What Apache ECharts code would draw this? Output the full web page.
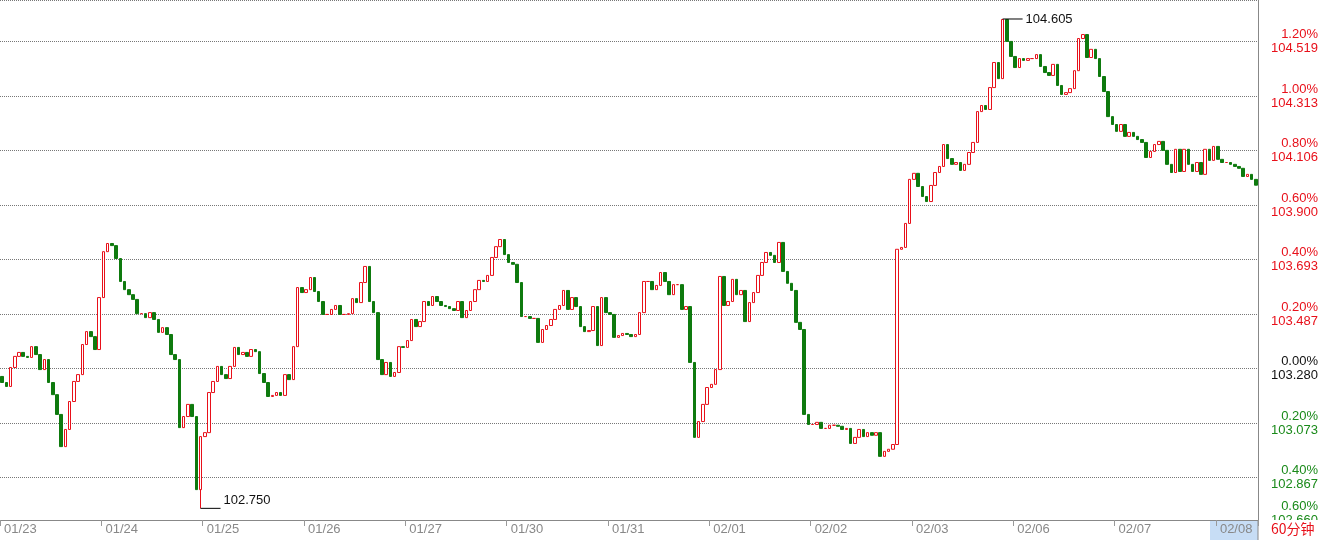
<!DOCTYPE html>
<html>
<head>
<meta charset="utf-8">
<script src="https://cdn.jsdelivr.net/npm/echarts@6/dist/echarts.min.js"></script>
<style>
html,body{margin:0;padding:0;background:#fff;}
#container{width:1325px;height:540px;}
</style>
</head>
<body>
<div id="container"></div>
<script>
// 日期 (每日 24 根 60分钟 K线, 最后一天 10 根)
var days = ['01/23','01/24','01/25','01/26','01/27','01/30','01/31','02/01','02/02','02/03','02/06','02/07','02/08'];
var barsPerDay = [24,24,24,24,24,24,24,24,24,24,24,24,10];

// 收盘价
var closes = [
	103.227,103.212,103.284,103.326,103.341,103.326,103.322,103.363,103.333,103.276,103.314,103.227,103.181,103.106,102.984,103.049,103.155,103.231,103.257,103.371,103.420,103.401,103.352,103.549,
	103.723,103.754,103.746,103.697,103.610,103.579,103.560,103.542,103.488,103.488,103.473,103.492,103.466,103.417,103.435,103.409,103.333,103.314,103.056,103.098,103.144,103.098,102.821,103.022,
	103.037,103.189,103.231,103.288,103.257,103.242,103.288,103.360,103.333,103.341,103.326,103.352,103.344,103.261,103.227,103.174,103.178,103.189,103.178,103.257,103.238,103.363,103.587,103.568,
	103.579,103.625,103.572,103.534,103.485,103.485,103.504,103.519,103.485,103.485,103.488,103.545,103.530,103.606,103.667,103.534,103.492,103.314,103.257,103.303,103.250,103.265,103.363,103.360,
	103.386,103.466,103.439,103.458,103.534,103.519,103.553,103.534,103.519,103.515,103.507,103.500,103.534,103.473,103.500,103.534,103.579,103.614,103.610,103.633,103.701,103.742,103.769,103.712,
	103.682,103.675,103.606,103.477,103.477,103.470,103.470,103.379,103.428,103.443,103.466,103.504,103.519,103.576,103.504,103.549,103.515,103.439,103.420,103.424,103.515,103.367,103.549,103.492,
	103.485,103.398,103.405,103.413,103.409,103.401,103.409,103.492,103.610,103.610,103.579,103.595,103.644,103.610,103.560,103.598,103.598,103.504,103.515,103.303,103.019,103.079,103.144,103.208,
	103.220,103.276,103.629,103.519,103.534,103.618,103.560,103.576,103.458,103.530,103.568,103.633,103.682,103.720,103.709,103.682,103.758,103.648,103.603,103.576,103.455,103.428,103.106,103.068,
	103.068,103.076,103.053,103.053,103.065,103.065,103.061,103.049,103.053,102.996,103.019,103.049,103.022,103.037,103.027,103.037,102.947,102.966,102.974,102.992,103.732,103.739,103.830,103.997,
	104.020,103.970,103.932,103.913,103.974,104.023,104.046,104.129,104.076,104.054,104.061,104.031,104.054,104.099,104.137,104.254,104.277,104.262,104.345,104.440,104.379,104.603,104.520,104.463,
	104.421,104.455,104.448,104.455,104.455,104.470,104.425,104.402,104.391,104.433,104.353,104.319,104.326,104.341,104.409,104.531,104.546,104.459,104.490,104.455,104.387,104.330,104.235,104.205,
	104.179,104.205,104.160,104.175,104.160,104.148,104.137,104.080,104.103,104.129,104.141,104.107,104.054,104.023,104.111,104.027,104.111,104.054,104.027,104.061,104.016,104.111,104.069,104.122,
	104.073,104.061,104.061,104.054,104.046,104.039,104.008,104.016,103.997,103.975
];
var firstOpen = 103.250;
var basePrice = 103.280;   // 0.00%
var lastPrice = 103.975;
// 最低/最高点 [index, price]
var lowPoint = [47, 102.750];
var highPoint = [237, 104.605];

var categories = [];
for (var d = 0; d < days.length; d++) {
	for (var h = 0; h < barsPerDay[d]; h++) {
		categories.push(days[d] + ' ' + (h < 10 ? '0' + h : h) + ':00');
	}
}

var values = [];
var prev = firstOpen;
for (var i = 0; i < closes.length; i++) {
	var o = prev, c = closes[i];
	var lo = Math.min(o, c), hi = Math.max(o, c);
	if (i == lowPoint[0]) lo = lowPoint[1];
	if (i == highPoint[0]) hi = highPoint[1];
	values.push([o, c, lo, hi]);
	prev = c;
}

var step = basePrice * 0.002;
var yMin = basePrice - 3 * step;
var fontName = 'Liberation Sans, Arial, sans-serif';

var myChart = echarts.init(document.getElementById('container'));
myChart.setOption({
	backgroundColor: '#fff',
	animation: false,
	textStyle: {fontFamily: fontName},
	grid: {left: 0, right: 67, top: 0, bottom: 8, outerBoundsMode: 'none', containLabel: false},
	xAxis: {
		type: 'category',
		data: categories,
		boundaryGap: true,
		offset: -12,
		z: 200,
		axisLine: {lineStyle: {color: '#888'}},
		axisTick: {
			show: true, length: 6, lineStyle: {color: '#999'},
			interval: function (index, value) { return value.slice(6) == '00:00'; }
		},
		axisLabel: {
			color: '#888', fontSize: 13, margin: 3, align: 'left', padding: [0, 0, 0, 2],
			interval: function (index, value) { return value.slice(6) == '00:00'; },
			formatter: function (value) { return value.slice(0, 5); }
		},
		splitLine: {show: false}
	},
	yAxis: {
		type: 'value',
		position: 'right',
		min: yMin,
		max: 104.677,
		interval: step,
		axisLine: {show: true, lineStyle: {color: '#888'}},
		axisTick: {show: false},
		splitLine: {lineStyle: {type: 'dotted', color: '#777'}},
		axisLabel: {
			showMaxLabel: false,
			showMinLabel: true,
			align: 'right',
			margin: 60,
			fontSize: 13,
			formatter: function (v) {
				var pct = Math.round((v - basePrice) / basePrice * 10000) / 100;
				var k = pct > 0 ? 'up' : (pct < 0 ? 'dn' : 'zr');
				var s = '{' + k + '|' + Math.abs(pct).toFixed(2) + '%}\n{' + k + '|' + v.toFixed(3) + '}';
				if (Math.abs(v - yMin) < 1e-6) s += '\n{sp|}';   // 最底部标签上移
				return s;
			},
			rich: {
				up: {color: '#e8101a', fontSize: 13, lineHeight: 14},
				dn: {color: '#1a8a1a', fontSize: 13, lineHeight: 14},
				zr: {color: '#111', fontSize: 13, lineHeight: 14},
				sp: {lineHeight: 38}
			}
		}
	},
	series: [{
		type: 'candlestick',
		data: values,
		barWidth: '72%',
		itemStyle: {
			color: '#fff',
			color0: '#0e7a0e',
			borderColor: '#e8101a',
			borderColor0: '#0e7a0e',
			borderWidth: 1
		},
		markPoint: {
			symbol: 'rect',
			symbolSize: [20, 1],
			symbolOffset: [10, 0],
			itemStyle: {color: '#000'},
			label: {show: true, position: 'right', distance: 3, color: '#111', fontSize: 13,
				formatter: function (p) { return p.value.toFixed(3); }},
			data: [
				{coord: [lowPoint[0], lowPoint[1]], value: lowPoint[1], label: {offset: [0, -8]}},
				{coord: [highPoint[0], highPoint[1]], value: highPoint[1]}
			]
		},
		markLine: {
			silent: true,
			symbol: 'none',
			lineStyle: {opacity: 0},
			label: {show: true, position: 'end', distance: 5, color: '#e8101a', fontSize: 13,
				formatter: function (p) { return p.value.toFixed(3); }},
			data: [{yAxis: lastPrice}]
		}
	}],
	graphic: [
		{type: 'rect', z: 100, shape: {x: 0, y: 520, width: 1325, height: 20}, style: {fill: '#fff'}},
		{type: 'rect', z: 150, shape: {x: 1210, y: 521, width: 48, height: 19}, style: {fill: '#c7ddf5'}},
		{type: 'line', z: 150, shape: {x1: 1258, y1: 520, x2: 1258, y2: 540}, style: {stroke: '#888'}},
		{type: 'text', z: 300, left: 1271, top: 522,
			style: {text: '60分钟', fill: '#e8101a', fontSize: 14, fontFamily: 'Noto Sans CJK SC, sans-serif'}}
	]
});
</script>
</body>
</html>
